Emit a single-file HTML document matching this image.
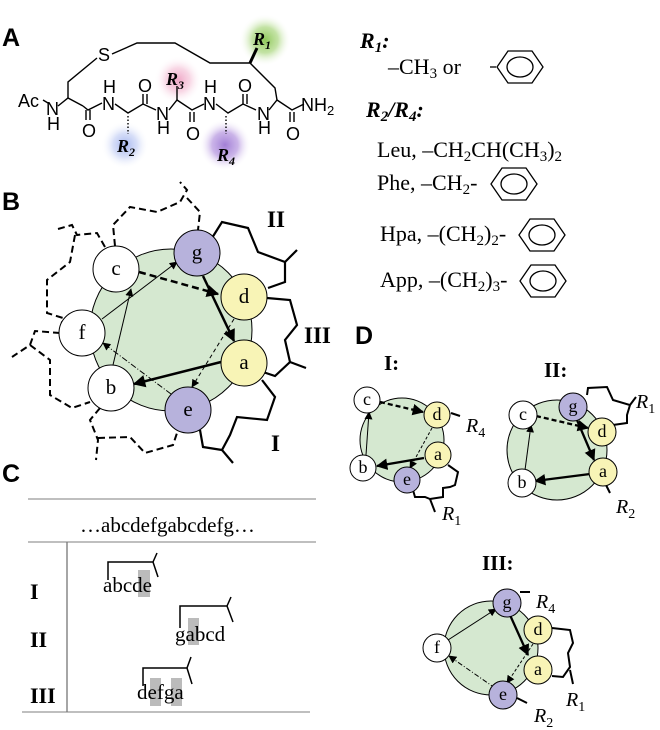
<!DOCTYPE html>
<html><head><meta charset="utf-8"><style>
body{margin:0;background:#fff}
svg{display:block}
.t{font-family:"Liberation Serif",serif;fill:#000}
.s{font-family:"Liberation Sans",sans-serif;fill:#000}
.L{font-family:"Liberation Sans",sans-serif;font-weight:bold;font-size:25px}
</style></head><body>
<svg width="660" height="730" viewBox="0 0 660 730" xmlns="http://www.w3.org/2000/svg">
<defs>
<marker id="ah" viewBox="0 0 10 10" refX="9" refY="5" markerWidth="5" markerHeight="5" orient="auto"><path d="M0,0L10,5L0,10z"/></marker>
<marker id="ahs" viewBox="0 0 10 10" refX="9" refY="5" markerWidth="8" markerHeight="8" orient="auto"><path d="M0,0L10,5L0,10z"/></marker>
<radialGradient id="gG"><stop offset="0" stop-color="#8fc85a"/><stop offset="0.5" stop-color="#b5dc8f" stop-opacity=".8"/><stop offset="1" stop-color="#fff" stop-opacity="0"/></radialGradient>
<radialGradient id="gP"><stop offset="0" stop-color="#f0a6c6"/><stop offset="0.5" stop-color="#f5c6da" stop-opacity=".7"/><stop offset="1" stop-color="#fff" stop-opacity="0"/></radialGradient>
<radialGradient id="gB"><stop offset="0" stop-color="#a6b6ef"/><stop offset="0.5" stop-color="#c6d1f5" stop-opacity=".7"/><stop offset="1" stop-color="#fff" stop-opacity="0"/></radialGradient>
<radialGradient id="gV"><stop offset="0" stop-color="#a27fd6"/><stop offset="0.5" stop-color="#bea2e3" stop-opacity=".8"/><stop offset="1" stop-color="#fff" stop-opacity="0"/></radialGradient>
</defs>

<!-- Panel A -->
<text x="2" y="46" class="L">A</text>
<circle cx="265" cy="40" r="26" fill="url(#gG)"/>
<circle cx="178" cy="80" r="24" fill="url(#gP)"/>
<circle cx="125" cy="145" r="24" fill="url(#gB)"/>
<circle cx="225" cy="145" r="26" fill="url(#gV)"/>
<g stroke="#000" stroke-width="1.4" fill="none">
<path d="M43,100 L48,103"/>
<path d="M58,106 L68,98 L83,106"/>
<path d="M68,98 L68,82 L97,58"/>
<path d="M112,54 L137,43 L175,43 L210,63 L250,63 L275,88 L277,100"/>
<path d="M250,63 L257,48" stroke-width="3"/>
<path d="M83,106 L88,110 L102,103"/>
<path d="M86,110 L86,120 M90,110 L90,120"/>
<path d="M115,104 L128,113 L143,104 L156,110"/>
<path d="M143,104 L143,94 M147,104 L147,94"/>
<path d="M169,110 L177,100 L192,110 L204,104"/>
<path d="M177,100 L177,86"/>
<path d="M190,112 L190,122 M194,112 L194,122"/>
<path d="M216,104 L228,113 L243,104 L256,110"/>
<path d="M243,104 L243,94 M247,104 L247,94"/>
<path d="M269,110 L277,100 L292,110 L304,104"/>
<path d="M290,112 L290,122 M294,112 L294,122"/>
<path d="M128,116 L128,134 M226,116 L226,134" stroke-dasharray="1.5,2"/>
</g>
<g class="s" font-size="18">
<text x="18" y="107">Ac</text>
<text x="46" y="115">N</text><text x="47" y="130">H</text>
<text x="98" y="61">S</text>
<text x="82" y="137">O</text>
<text x="102" y="110">N</text><text x="103" y="93">H</text>
<text x="138" y="92">O</text>
<text x="156" y="120">N</text><text x="157" y="134">H</text>
<text x="186" y="140">O</text>
<text x="203" y="110">N</text><text x="204" y="93">H</text>
<text x="238" y="92">O</text>
<text x="257" y="120">N</text><text x="258" y="134">H</text>
<text x="286" y="140">O</text>
<text x="301" y="111">NH<tspan font-size="13" dy="4">2</tspan></text>
</g>
<g class="t" font-style="italic" font-weight="bold" font-size="18">
<text x="253" y="45">R<tspan font-size="12" dy="4">1</tspan></text>
<text x="166" y="85">R<tspan font-size="12" dy="4">3</tspan></text>
<text x="117" y="152">R<tspan font-size="12" dy="4">2</tspan></text>
<text x="217" y="161">R<tspan font-size="12" dy="4">4</tspan></text>
</g>

<!-- Right top text -->
<g class="t" font-size="22">
<text x="360" y="48" font-weight="bold" font-style="italic">R<tspan font-size="15" dy="4">1</tspan><tspan dy="-4">:</tspan></text>
<text x="388" y="74">–CH<tspan font-size="15" dy="4">3</tspan><tspan dy="-4"> or</tspan></text>
<text x="366" y="117" font-weight="bold" font-style="italic">R<tspan font-size="15" dy="4">2</tspan><tspan dy="-4">/R</tspan><tspan font-size="15" dy="4">4</tspan><tspan dy="-4">:</tspan></text>
<text x="377" y="157">Leu, –CH<tspan font-size="15" dy="4">2</tspan><tspan dy="-4">CH(CH</tspan><tspan font-size="15" dy="4">3</tspan><tspan dy="-4">)</tspan><tspan font-size="15" dy="4">2</tspan></text>
<text x="377" y="190">Phe, –CH<tspan font-size="15" dy="4">2</tspan><tspan dy="-4">-</tspan></text>
<text x="380" y="241">Hpa, –(CH<tspan font-size="15" dy="4">2</tspan><tspan dy="-4">)</tspan><tspan font-size="15" dy="4">2</tspan><tspan dy="-4">-</tspan></text>
<text x="380" y="287">App, –(CH<tspan font-size="15" dy="4">2</tspan><tspan dy="-4">)</tspan><tspan font-size="15" dy="4">3</tspan><tspan dy="-4">-</tspan></text>
</g>
<g stroke="#000" stroke-width="1.3" fill="none">
<path d="M490,67 L496,67"/>
<g transform="translate(520,67)"><path d="M-23,0 L-12,-16 L12,-16 L23,0 L12,16 L-12,16 Z"/><ellipse cx="0" cy="0" rx="13" ry="10"/></g>
<g transform="translate(514,184)"><path d="M-23,0 L-12,-16 L12,-16 L23,0 L12,16 L-12,16 Z"/><ellipse cx="0" cy="0" rx="13" ry="10"/></g>
<g transform="translate(542,235)"><path d="M-23,0 L-12,-16 L12,-16 L23,0 L12,16 L-12,16 Z"/><ellipse cx="0" cy="0" rx="13" ry="10"/></g>
<g transform="translate(543,281)"><path d="M-23,0 L-12,-16 L12,-16 L23,0 L12,16 L-12,16 Z"/><ellipse cx="0" cy="0" rx="13" ry="10"/></g>
</g>

<!-- Panel B -->
<text x="2" y="210" class="L">B</text>
<circle cx="171" cy="330" r="81" fill="#d5e8d0" stroke="#000" stroke-width="1"/>
<g stroke="#000" stroke-width="2" fill="none" stroke-dasharray="7,4">
<path d="M115,246 L113,225 L130,207 L157,212 L180,202 L187,190 L180,182"/>
<path d="M187,198 L200,212 L198,230"/>
<path d="M105,247 L97,233 L77,235 L72,225 L58,229"/>
<path d="M75,235 L70,262 L47,280 L47,313 L63,318 L60,330"/>
<path d="M60,333 L35,331 L30,345 L12,357"/>
<path d="M30,345 L50,360 L50,395 L72,408 L90,402"/>
<path d="M100,408 L90,420 L98,440 L96,460"/>
<path d="M98,438 L130,437 L145,453 L173,445 L178,430"/>
</g>
<g stroke="#000" stroke-width="2.2" fill="none">
<path d="M212,238 L222,222 L248,228 L258,252 L285,262 L285,282 L268,288"/>
<path d="M285,262 L297,250"/>
<path d="M267,298 L290,300 L297,325 L285,340 L290,362 L275,376 L263,372"/>
<path d="M290,362 L306,368"/>
<path d="M262,380 L275,397 L267,420 L237,417 L230,435 L222,450 L233,463"/>
<path d="M222,450 L203,447 L200,430"/>
</g>
<g stroke="#000" fill="none">
<path d="M139,272 L218,294" stroke-width="2.5" stroke-dasharray="7,4" marker-end="url(#ah)"/>
<path d="M203,276 L234,341" stroke-width="2.5" marker-end="url(#ah)"/>
<path d="M221,362 L134,384" stroke-width="2.5" marker-end="url(#ah)"/>
<path d="M234,319 L192,387" stroke-width="1" stroke-dasharray="4,3" marker-end="url(#ahs)"/>
<path d="M171,394 L103,343" stroke-width="1" stroke-dasharray="6,2,1,2" marker-end="url(#ahs)"/>
<path d="M113,365 L131,289" stroke-width="1" marker-end="url(#ahs)"/>
<path d="M102,319 L177,262" stroke-width="1" marker-end="url(#ahs)"/>
</g>
<g stroke="#000" stroke-width="1">
<circle cx="197" cy="253" r="23" fill="#b7b2dc"/>
<circle cx="244" cy="297" r="23" fill="#f8f4b6"/>
<circle cx="244" cy="363" r="23" fill="#f8f4b6"/>
<circle cx="188" cy="410" r="23" fill="#b7b2dc"/>
<circle cx="111" cy="388" r="23" fill="#fff"/>
<circle cx="82" cy="333" r="23" fill="#fff"/>
<circle cx="116" cy="269" r="23" fill="#fff"/>
</g>
<g class="t" font-size="21" text-anchor="middle">
<text x="197" y="259">g</text><text x="244" y="303">d</text><text x="244" y="369">a</text>
<text x="188" y="416">e</text><text x="111" y="394">b</text><text x="82" y="339">f</text><text x="116" y="275">c</text>
</g>
<g class="t" font-size="23" font-weight="bold">
<text x="267" y="227">II</text><text x="304" y="343">III</text><text x="271" y="451">I</text>
</g>

<!-- Panel C -->
<text x="2" y="482" class="L">C</text>
<g stroke="#999" stroke-width="1.3">
<path d="M28,499 L316,499"/><path d="M28,542 L316,542"/><path d="M22,712 L310,712"/>
<path d="M67,542 L67,712" stroke="#777"/>
</g>
<g fill="#bbb">
<rect x="138" y="570" width="12" height="27"/>
<rect x="188" y="618" width="11" height="27"/>
<rect x="150" y="678" width="11" height="28"/>
<rect x="171" y="678" width="11" height="28"/>
</g>
<g class="t" font-size="21">
<text x="80" y="532">…abcdefgabcdefg…</text>
<text x="103" y="592">abcde</text>
<text x="175" y="641">gabcd</text>
<text x="137" y="699">defga</text>
</g>
<g class="t" font-size="22" font-weight="bold">
<text x="30" y="599">I</text><text x="30" y="647">II</text><text x="30" y="703">III</text>
</g>
<g stroke="#000" stroke-width="1.5" fill="none">
<path d="M108,580 L108,562 L153,562 L158,577 M153,562 L157,553"/>
<path d="M180,628 L180,606 L227,606 L233,622 M227,606 L231,597"/>
<path d="M143,686 L143,668 L187,668 L192,684 M187,668 L191,657"/>
</g>

<!-- Panel D -->
<text x="355" y="344" class="L">D</text>
<g class="t" font-size="21" font-weight="bold">
<text x="384" y="370">I:</text><text x="544" y="377">II:</text><text x="482" y="570">III:</text>
</g>
<!-- D-I -->
<circle cx="402" cy="440" r="42" fill="#d5e8d0" stroke="#000"/>
<g stroke="#000" stroke-width="2" fill="none">
<path d="M448,465 L458,472 L455,485 L450,487 L443,488 L443,497 L430,499 L425,497 L415,497 L413,490"/>
<path d="M430,499 L435,512"/><path d="M451,413 L460,416"/>
</g>
<g stroke="#000" fill="none">
<path d="M380,402 L423,412" stroke-width="2.3" stroke-dasharray="5,3" marker-end="url(#ah)"/>
<path d="M424,458 L377,466" stroke-width="2.3" marker-end="url(#ah)"/>
<path d="M432,428 L410,468" stroke-width="1" stroke-dasharray="3,2" marker-end="url(#ahs)"/>
<path d="M366,455 L369,412" stroke-width="1" marker-end="url(#ahs)"/>
</g>
<g stroke="#000">
<circle cx="367" cy="400" r="13" fill="#fff"/><circle cx="437" cy="415" r="13" fill="#f8f4b6"/>
<circle cx="438" cy="455" r="13" fill="#f8f4b6"/><circle cx="407" cy="480" r="13" fill="#b7b2dc"/>
<circle cx="363" cy="468" r="13" fill="#fff"/>
</g>
<!-- D-II -->
<circle cx="557" cy="450" r="50" fill="#d5e8d0" stroke="#000"/>
<g stroke="#000" stroke-width="2" fill="none">
<path d="M587,395 L588,388 L607,387 L613,400 L630,405 L627,415 L627,423 L613,425 L608,428"/>
<path d="M630,405 L636,397"/><path d="M606,485 L610,493"/>
</g>
<g stroke="#000" fill="none">
<path d="M536,416 L588,428" stroke-width="2.3" stroke-dasharray="5,3" marker-end="url(#ah)"/>
<path d="M577,420 L594,460" stroke-width="2.3" marker-end="url(#ah)"/>
<path d="M590,474 L535,481" stroke-width="2.3" marker-end="url(#ah)"/>
<path d="M525,470 L531,425" stroke-width="1" marker-end="url(#ahs)"/>
</g>
<g stroke="#000">
<circle cx="523" cy="415" r="14" fill="#fff"/><circle cx="573" cy="407" r="14" fill="#b7b2dc"/>
<circle cx="602" cy="432" r="14" fill="#f8f4b6"/><circle cx="603" cy="472" r="14" fill="#f8f4b6"/>
<circle cx="522" cy="483" r="14" fill="#fff"/>
</g>
<!-- D-III -->
<circle cx="491" cy="648" r="47" fill="#d5e8d0" stroke="#000"/>
<g stroke="#000" stroke-width="2" fill="none">
<path d="M552,628 L570,630 L573,643 L568,653 L570,667 L563,677 L552,676"/>
<path d="M570,670 L573,684"/><path d="M520,592 L530,592"/><path d="M517,698 L527,703"/>
</g>
<g stroke="#000" fill="none">
<path d="M510,615 L528,655" stroke-width="2.3" marker-end="url(#ah)"/>
<path d="M533,644 L507,683" stroke-width="1" stroke-dasharray="3,2" marker-end="url(#ahs)"/>
<path d="M495,688 L449,656" stroke-width="1" stroke-dasharray="5,2,1,2" marker-end="url(#ahs)"/>
<path d="M448,640 L496,609" stroke-width="1" marker-end="url(#ahs)"/>
</g>
<g stroke="#000">
<circle cx="507" cy="603" r="14" fill="#b7b2dc"/><circle cx="538" cy="630" r="14" fill="#f8f4b6"/>
<circle cx="538" cy="670" r="14" fill="#f8f4b6"/><circle cx="503" cy="695" r="14" fill="#b7b2dc"/>
<circle cx="437" cy="648" r="14" fill="#fff"/>
</g>
<g class="t" font-size="18" text-anchor="middle">
<text x="367" y="405">c</text><text x="437" y="420">d</text><text x="438" y="460">a</text><text x="407" y="485">e</text><text x="363" y="473">b</text>
<text x="523" y="420">c</text><text x="573" y="412">g</text><text x="602" y="437">d</text><text x="603" y="477">a</text><text x="522" y="488">b</text>
<text x="507" y="608">g</text><text x="538" y="635">d</text><text x="538" y="675">a</text><text x="503" y="700">e</text><text x="437" y="653">f</text>
</g>
<g class="t" font-size="20" font-style="italic">
<text x="466" y="432">R<tspan font-size="14" dy="5" font-style="normal">4</tspan></text>
<text x="442" y="520">R<tspan font-size="14" dy="5" font-style="normal">1</tspan></text>
<text x="636" y="408">R<tspan font-size="14" dy="5" font-style="normal">1</tspan></text>
<text x="616" y="513">R<tspan font-size="14" dy="5" font-style="normal">2</tspan></text>
<text x="536" y="608">R<tspan font-size="14" dy="5" font-style="normal">4</tspan></text>
<text x="566" y="706">R<tspan font-size="14" dy="5" font-style="normal">1</tspan></text>
<text x="534" y="722">R<tspan font-size="14" dy="5" font-style="normal">2</tspan></text>
</g>
</svg>
</body></html>
